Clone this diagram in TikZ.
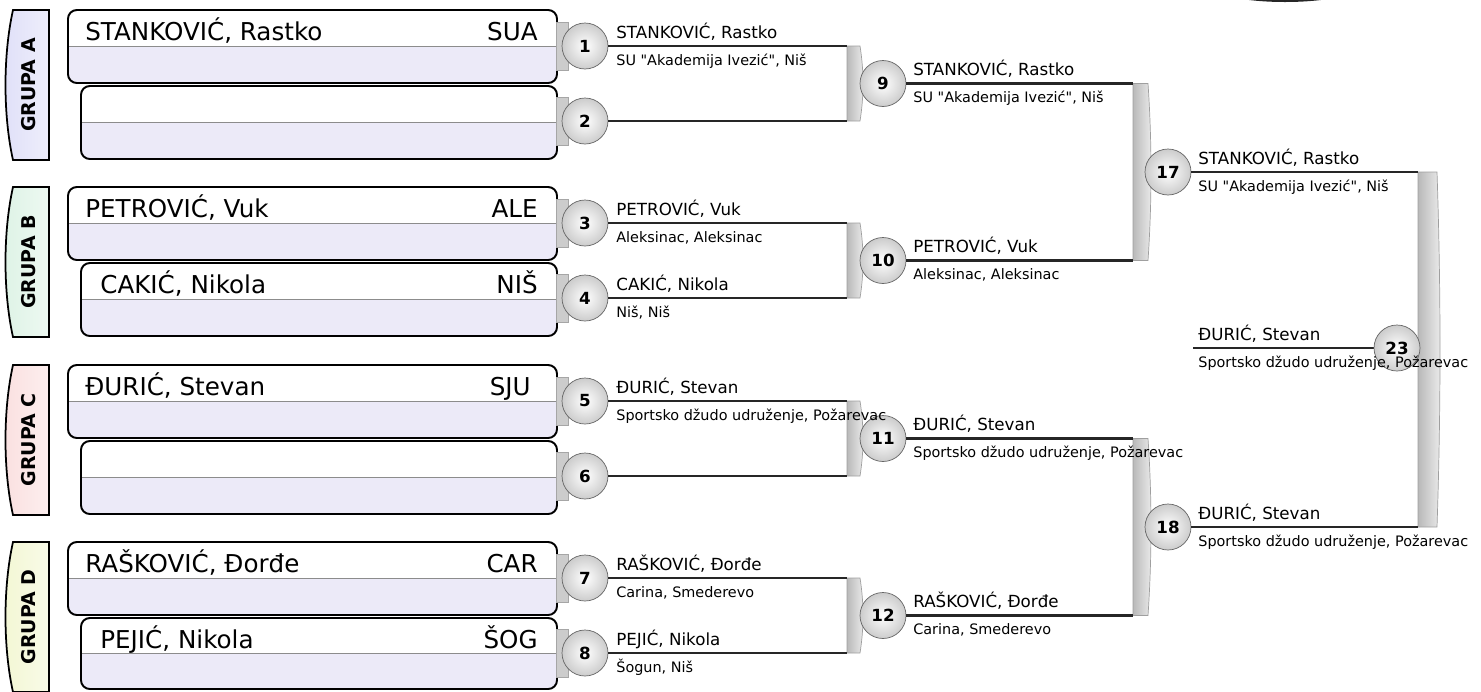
\documentclass[tikz,border=0pt]{standalone}
\usepackage{fontspec}
\setmainfont{DejaVu Sans}[Ligatures=TeXOff]
\definecolor{GroupA}{RGB}{224,224,248}
\definecolor{GroupB}{RGB}{222,243,230}
\definecolor{GroupC}{RGB}{250,224,224}
\definecolor{GroupD}{RGB}{243,247,212}
\definecolor{BoxLav}{RGB}{236,234,248}

% player box: left, top, right, bottom
\newcommand{\playerbox}[4]{%
  \begin{scope}
    \clip[rounded corners=5pt] (#1,#2) rectangle (#3,#4);
    \fill[BoxLav] (#1,#2) rectangle (#3,#4);
    \fill[white] (#1,#2) rectangle (#3,{(#2+#4)/2});
  \end{scope}
  \draw[black!45] (#1,{(#2+#4)/2}) -- (#3,{(#2+#4)/2});
  \draw[line width=1.1pt, rounded corners=5pt] (#1,#2) rectangle (#3,#4);
}
% group tab: top, colour
\newcommand{\grouptab}[2]{%
  \draw[line width=1pt, left color=#2, right color=#2!55!white]
    (49,#1) -- (13,#1) .. controls (3,{#1+45}) and (3,{#1+105}) .. (13,{#1+150})
    -- (49,{#1+150}) -- cycle;
}
% joining bar: left x, top y, bottom y, width
\newcommand{\joinbar}[4]{%
  \draw[gray!75, left color=gray!55, right color=gray!15]
    (#1,#2) -- ({#1+#4},#2) .. controls ({#1+#4+4},{#2+(#3-#2)/3}) and ({#1+#4+4},{#3-(#3-#2)/3}) .. ({#1+#4},#3)
    -- (#1,#3) -- cycle;
}

\begin{document}
\begin{tikzpicture}[x=0.02cm, y=-0.02cm,
    grp/.style={rotate=90, font=\bfseries\fontsize{10.8}{12}\selectfont},
    pname/.style={anchor=base west, inner sep=0pt, font=\fontsize{14}{16}\selectfont},
    pcode/.style={anchor=base east, inner sep=0pt, font=\fontsize{14}{16}\selectfont},
    num/.style={circle, draw=black!60, inner color=white, outer color=gray!40, minimum size=0.92cm, inner sep=0pt, font=\bfseries\fontsize{9.5}{10}\selectfont},
    wname/.style={anchor=base west, inner sep=0pt, font=\fontsize{9.5}{11}\selectfont},
    wclub/.style={anchor=base west, inner sep=0pt, font=\fontsize{8.2}{10}\selectfont},
    wline/.style={line width=1.2pt, black!85},
    stub/.style={draw=gray!70, fill=gray!40}]
    \useasboundingbox (0,0) rectangle (1481,691);
    % cut-off shape at the top
    \fill[black!85] (1285,-16) ellipse [x radius=78, y radius=18];

    % Grupa A
    \grouptab{10}{GroupA}
    \node[grp] (ga) at (29,85) {GRUPA A};
    \playerbox{68}{10}{557}{83}
    \playerbox{81}{86}{557}{159}
    \node[pname] (p1) at (85,40) {STANKOVIĆ, Rastko};
    \node[pcode] (c1) at (538,40) {SUA};

    % Grupa B
    \grouptab{187}{GroupB}
    \node[grp] (gb) at (29,262) {GRUPA B};
    \playerbox{68}{187}{557}{260}
    \playerbox{81}{263}{557}{336}
    \node[pname] (p3) at (85,217) {PETROVIĆ, Vuk};
    \node[pcode] (c3) at (538,217) {ALE};
    \node[pname] (p4) at (100,293) {CAKIĆ, Nikola};
    \node[pcode] (c4) at (538,293) {NIŠ};

    % Grupa C
    \grouptab{365}{GroupC}
    \node[grp] (gc) at (29,440) {GRUPA C};
    \playerbox{68}{365}{557}{438}
    \playerbox{81}{441}{557}{514}
    \node[pname] (p5) at (85,395) {ĐURIĆ, Stevan};
    \node[pcode] (c5) at (531,395) {SJU};

    % Grupa D
    \grouptab{542}{GroupD}
    \node[grp] (gd) at (29,617) {GRUPA D};
    \playerbox{68}{542}{557}{615}
    \playerbox{81}{618}{557}{689}
    \node[pname] (p7) at (85,572) {RAŠKOVIĆ, Đorđe};
    \node[pcode] (c7) at (538,572) {CAR};
    \node[pname] (p8) at (100,648) {PEJIĆ, Nikola};
    \node[pcode] (c8) at (538,648) {ŠOG};

    % stubs between boxes and circles
    \foreach \y in {46,121,223,298,401,476,578,653}
        \draw[stub] (556,\y-24) rectangle (568,\y+24);

    % bars
    \joinbar{847}{46}{121}{13}
    \joinbar{847}{223}{298}{13}
    \joinbar{847}{401}{476}{13}
    \joinbar{847}{578}{653}{13}
    \joinbar{1133}{83.5}{260.5}{15}
    \joinbar{1133}{438.5}{615.5}{15}
    \joinbar{1418}{172}{527}{19}
    \coordinate (k9) at (847,83.5);
    \coordinate (k17) at (1133,172);
    \coordinate (k23) at (1418,348);
    \coordinate (s23) at (1193,348);

    % round 1
    \node[num] (m1) at (585,46) {1};
    \node[num] (m2) at (585,121) {2};
    \node[num] (m3) at (585,223) {3};
    \node[num] (m4) at (585,298) {4};
    \node[num] (m5) at (585,401) {5};
    \node[num] (m6) at (585,476) {6};
    \node[num] (m7) at (585,578) {7};
    \node[num] (m8) at (585,653) {8};
    \draw[wline] (m1.east) -- (m1 -| k9);
    \draw[wline] (m2.east) -- (m2 -| k9);
    \draw[wline] (m3.east) -- (m3 -| k9);
    \draw[wline] (m4.east) -- (m4 -| k9);
    \draw[wline] (m5.east) -- (m5 -| k9);
    \draw[wline] (m6.east) -- (m6 -| k9);
    \draw[wline] (m7.east) -- (m7 -| k9);
    \draw[wline] (m8.east) -- (m8 -| k9);

    % round 2
    \node[num] (m9) at (883,83.5) {9};
    \node[num] (m10) at (883,260.5) {10};
    \node[num] (m11) at (883,438.5) {11};
    \node[num] (m12) at (883,615.5) {12};
    \draw[wline] (m9.east) -- (m9 -| k17);
    \draw[wline] (m10.east) -- (m10 -| k17);
    \draw[wline] (m11.east) -- (m11 -| k17);
    \draw[wline] (m12.east) -- (m12 -| k17);

    % round 3 and final
    \node[num] (m17) at (1168,172) {17};
    \node[num] (m18) at (1168,527) {18};
    \draw[wline] (m17.east) -- (m17 -| k23);
    \draw[wline] (m18.east) -- (m18 -| k23);
    \draw[wline] (s23) -- (1380,348);
    \node[num] (m23) at (1397,348) {23};

    % winners after round 1
    \node[wname] (w1n) at (616,38) {STANKOVIĆ, Rastko};
    \node[wclub] (w1c) at (616,65) {SU "Akademija Ivezić", Niš};
    \node[wname] (w3n) at (616,215) {PETROVIĆ, Vuk};
    \node[wclub] (w3c) at (616,242) {Aleksinac, Aleksinac};
    \node[wname] (w4n) at (616,290) {CAKIĆ, Nikola};
    \node[wclub] (w4c) at (616,317) {Niš, Niš};
    \node[wname] (w5n) at (616,393) {ĐURIĆ, Stevan};
    \node[wclub] (w5c) at (616,420) {Sportsko džudo udruženje, Požarevac};
    \node[wname] (w7n) at (616,570) {RAŠKOVIĆ, Đorđe};
    \node[wclub] (w7c) at (616,597) {Carina, Smederevo};
    \node[wname] (w8n) at (616,645) {PEJIĆ, Nikola};
    \node[wclub] (w8c) at (616,672) {Šogun, Niš};

    % winners after round 2
    \node[wname] (w9n) at (913,75.5) {STANKOVIĆ, Rastko};
    \node[wclub] (w9c) at (913,102.5) {SU "Akademija Ivezić", Niš};
    \node[wname] (w10n) at (913,252.5) {PETROVIĆ, Vuk};
    \node[wclub] (w10c) at (913,279.5) {Aleksinac, Aleksinac};
    \node[wname] (w11n) at (913,430.5) {ĐURIĆ, Stevan};
    \node[wclub] (w11c) at (913,457.5) {Sportsko džudo udruženje, Požarevac};
    \node[wname] (w12n) at (913,607.5) {RAŠKOVIĆ, Đorđe};
    \node[wclub] (w12c) at (913,634.5) {Carina, Smederevo};

    % winners after round 3 and final
    \node[wname] (w17n) at (1198,164) {STANKOVIĆ, Rastko};
    \node[wclub] (w17c) at (1198,191) {SU "Akademija Ivezić", Niš};
    \node[wname] (w18n) at (1198,519) {ĐURIĆ, Stevan};
    \node[wclub] (w18c) at (1198,546) {Sportsko džudo udruženje, Požarevac};
    \node[wname] (w23n) at (1198,340) {ĐURIĆ, Stevan};
    \node[wclub] (w23c) at (1198,367) {Sportsko džudo udruženje, Požarevac};
\end{tikzpicture}
\end{document}
